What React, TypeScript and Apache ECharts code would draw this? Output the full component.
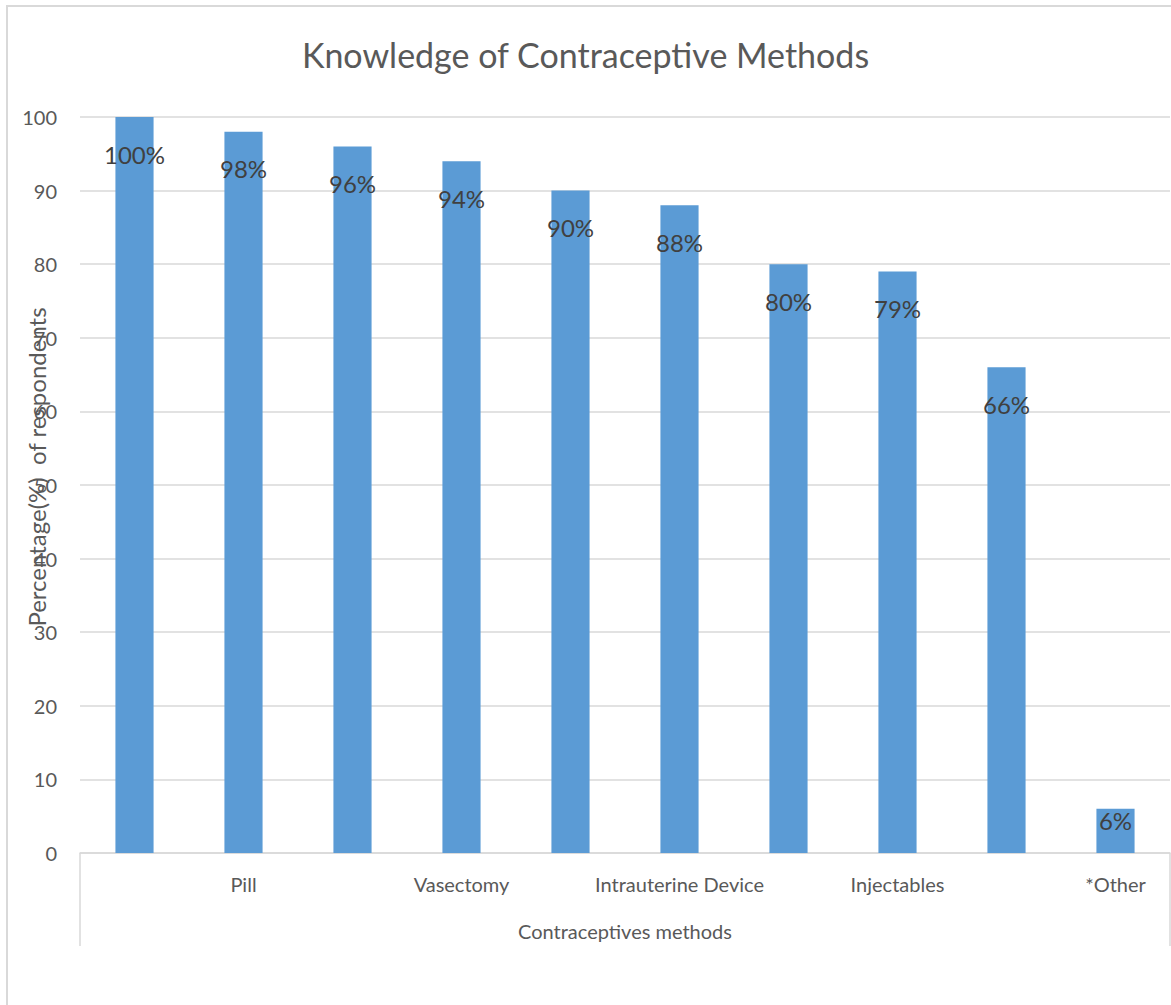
import React, { useEffect, useRef } from "react";
import * as echarts from "echarts";

const titleText = "Knowledge of Contraceptive Methods";
const categories = ["", "Pill", "", "Vasectomy", "", "Intrauterine Device", "", "Injectables", "", "*Other"];
const values = [100, 98, 96, 94, 90, 88, 80, 79, 66, 6];
const yAxisName = "Percentage(%)  of respondents";
const xAxisName = "Contraceptives methods";
const yTicks = [0, 10, 20, 30, 40, 50, 60, 70, 80, 90, 100];

const FONT = "Lato, 'Noto Sans', sans-serif";
const GRAY = "#595959";
const LINE = "#d9d9d9";

export default function App() {
  const ref = useRef<HTMLDivElement>(null);
  useEffect(() => {
    document.body.style.margin = "0";
    const chart = echarts.init(ref.current!, null, { renderer: "svg" });
    const gridLeft = 80;
    const gridRight = 1171 - 1170;
    const gridTop = 117;
    const gridBottomY = 853;
    chart.setOption({
      animation: false,
      backgroundColor: "#ffffff",
      textStyle: { fontFamily: FONT },
      title: {
        text: titleText,
        left: "center",
        top: 32,
        textStyle: { fontSize: 34, fontWeight: "normal", color: GRAY, fontFamily: FONT },
      },
      grid: { left: gridLeft, right: gridRight, top: gridTop, bottom: 1005 - gridBottomY, containLabel: false },
      xAxis: {
        type: "category",
        data: categories,
        axisLine: { show: true, lineStyle: { color: LINE, width: 1.5 } },
        axisTick: { show: false },
        axisLabel: { interval: 0, color: GRAY, fontSize: 20, margin: 21, fontFamily: FONT },
        name: xAxisName,
        nameLocation: "middle",
        nameGap: 68,
        nameTextStyle: { color: GRAY, fontSize: 20, fontFamily: FONT },
      },
      yAxis: {
        type: "value",
        min: yTicks[0],
        max: yTicks[yTicks.length - 1],
        interval: 10,
        axisLine: { show: false },
        axisTick: { show: false },
        splitLine: { lineStyle: { color: LINE, width: 1.5 } },
        axisLabel: { color: GRAY, fontSize: 20, margin: 23, fontFamily: FONT },
      },
      graphic: [
        {
          type: "rect",
          shape: { x: 7, y: 6, width: 1300, height: 1200 },
          style: { fill: "none", stroke: LINE, lineWidth: 2 },
          silent: true,
          z: -10,
        },
        {
          type: "line",
          shape: { x1: gridLeft, y1: gridBottomY, x2: gridLeft, y2: 946 },
          style: { stroke: LINE, lineWidth: 1.5 },
        },
        {
          type: "line",
          shape: { x1: 1170, y1: gridBottomY, x2: 1170, y2: 946 },
          style: { stroke: LINE, lineWidth: 1.5 },
        },
        {
          type: "text",
          x: 36,
          y: 467,
          rotation: Math.PI / 2,
          style: {
            text: yAxisName,
            align: "center",
            verticalAlign: "middle",
            fill: GRAY,
            fontSize: 24,
            fontFamily: FONT,
          },
        },
      ],
      series: [
        {
          type: "bar",
          data: values.map((v, i) =>
            i === values.length - 1 ? { value: v, label: { distance: 0 } } : v
          ),
          barWidth: "35%",
          itemStyle: { color: "#5b9bd5" },
          label: {
            show: true,
            position: "insideTop",
            distance: 25,
            formatter: "{c}%",
            color: "#404040",
            fontSize: 24,
            fontFamily: FONT,
          },
        },
      ],
    });
    return () => chart.dispose();
  }, []);
  return <div ref={ref} style={{ width: 1171, height: 1005 }} />;
}
